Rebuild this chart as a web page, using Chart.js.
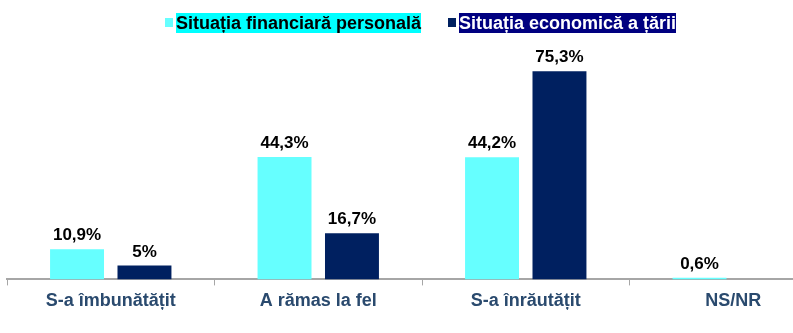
<!DOCTYPE html>
<html>
<head>
<meta charset="utf-8">
<script src="https://cdn.jsdelivr.net/npm/chart.js@4"></script>
<style>
  html, body { margin: 0; padding: 0; background: #fff; overflow: hidden; width: 793px; height: 333px; }
  #wrap { position: relative; width: 845px; height: 333px; }
  #legend { position: absolute; left: 0; top: 0; width: 793px; height: 40px; font: bold 18px "Liberation Sans", Arial, sans-serif; }
  .lg-box { position: absolute; top: 18px; width: 8px; height: 9px; }
  .lg-text { position: absolute; top: 13px; height: 20px; line-height: 20px; white-space: nowrap; }
</style>
</head>
<body>
<div id="wrap">
  <canvas id="chart" width="845" height="333"></canvas>
  <div id="legend"></div>
</div>
<script>
const categories = ['S-a îmbunătățit', 'A rămas la fel', 'S-a înrăutățit', 'NS/NR'];
const personalValues = [10.9, 44.3, 44.2, 0.6];
const countryValues = [5, 16.7, 75.3, 0];
const seriesNames = ['Situația financiară personală', 'Situația economică a țării'];

const barColors = ['#66FFFF', '#002060'];

// legend drawn as html so the labels can carry their highlight
const legendSpots = [
  { box: 165, text: 176, bg: '#00FFFF', fg: '#000000' },
  { box: 448, text: 459, bg: '#000080', fg: '#FFFFFF' },
];
const legend = document.getElementById('legend');
seriesNames.forEach((name, i) => {
  const box = document.createElement('div');
  box.className = 'lg-box';
  box.style.left = legendSpots[i].box + 'px';
  box.style.background = barColors[i];
  const txt = document.createElement('div');
  txt.className = 'lg-text';
  txt.style.left = legendSpots[i].text + 'px';
  txt.style.background = legendSpots[i].bg;
  txt.style.color = legendSpots[i].fg;
  txt.textContent = name;
  legend.appendChild(box);
  legend.appendChild(txt);
});

const valueLabels = {
  id: 'valueLabels',
  afterDatasetsDraw(chart) {
    const ctx = chart.ctx;
    ctx.save();
    ctx.font = 'bold 17px "Liberation Sans", Arial, sans-serif';
    ctx.fillStyle = '#000';
    ctx.textAlign = 'center';
    ctx.textBaseline = 'bottom';
    chart.data.datasets.forEach((ds, di) => {
      chart.getDatasetMeta(di).data.forEach((bar, i) => {
        const v = ds.data[i];
        if (!v) return;
        ctx.fillText(String(v).replace('.', ',') + '%', bar.x, bar.y - 5);
      });
    });
    ctx.restore();
  }
};

new Chart(document.getElementById('chart'), {
  type: 'bar',
  data: {
    labels: categories,
    datasets: [
      { label: seriesNames[0], data: personalValues, backgroundColor: barColors[0] },
      { label: seriesNames[1], data: countryValues, backgroundColor: barColors[1] },
    ],
  },
  options: {
    responsive: false,
    animation: false,
    categoryPercentage: 0.65,
    barPercentage: 0.8,
    layout: { padding: { left: 7, right: 8, top: 3, bottom: 16 } },
    plugins: {
      legend: { display: false },
      tooltip: { enabled: false },
    },
    scales: {
      x: {
        grid: { drawOnChartArea: false, drawTicks: true, tickLength: 6, color: '#A6A6A6', lineWidth: 1 },
        border: { color: '#A6A6A6', width: 2 },
        ticks: {
          color: '#2A4A6E',
          padding: 5,
          font: { family: '"Liberation Sans", Arial, sans-serif', size: 18, weight: 'bold' },
        },
      },
      y: {
        display: false,
        min: 0,
        max: 100,
      },
    },
  },
  plugins: [valueLabels],
});
</script>
</body>
</html>
